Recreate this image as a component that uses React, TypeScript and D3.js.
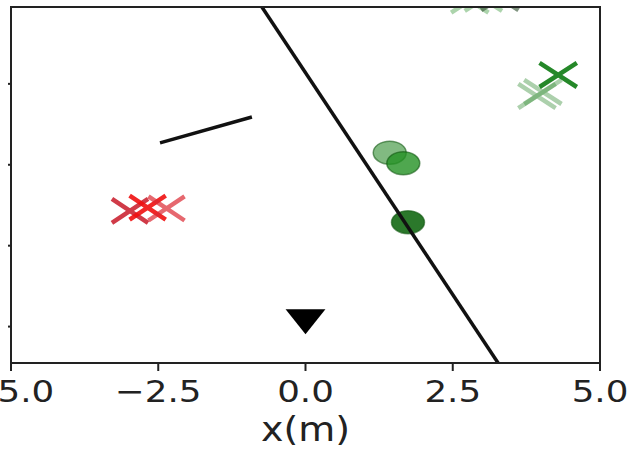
import React from "react";
import * as d3 from "d3";

// axis ticks
const xTicks = [-5, -2.5, 0, 2.5, 5];
const yTicks = [1, 2, 3, 4];

// decision boundary and short segment
const boundaryLine = [
  { x: -0.74, y: 4.95 },
  { x: 3.27, y: 0.55 },
];
const shortSegment = [
  { x: -2.47, y: 3.27 },
  { x: -0.91, y: 3.59 },
];

// agent position
const agent = { x: 0, y: 1.11 };

// red crosses
const redCrosses = [
  { x: -2.98, y: 2.43 },
  { x: -2.68, y: 2.47 },
  { x: -2.36, y: 2.46 },
];

// green circles
const greenCircles = [
  { x: 1.43, y: 3.15 },
  { x: 1.66, y: 3.02 },
  { x: 1.74, y: 2.29 },
];

// green crosses
const greenCrosses = [
  { x: 3.93, y: 3.85 },
  { x: 4.03, y: 3.9 },
  { x: 4.29, y: 4.11 },
  { x: 2.79, y: 5.03 },
  { x: 3.02, y: 5.05 },
  { x: 3.3, y: 5.06 },
];

const width = 637;
const height = 450;
const margin = { left: 11, right: 37, top: 7, bottom: 87 };

const redStyles = [
  { color: "rgb(200,25,40)", opacity: 0.85 },
  { color: "rgb(240,15,15)", opacity: 0.9 },
  { color: "rgb(220,40,50)", opacity: 0.7 },
];
const circleStyles = [
  { fill: "rgb(45,140,45)", opacity: 0.6 },
  { fill: "rgb(35,145,35)", opacity: 0.8 },
  { fill: "rgb(20,105,20)", opacity: 0.9 },
];
const greenCrossStyles = [
  { color: "rgb(70,150,70)", opacity: 0.45 },
  { color: "rgb(70,150,70)", opacity: 0.45 },
  { color: "rgb(25,130,30)", opacity: 0.95 },
  { color: "rgb(90,170,90)", opacity: 0.5 },
  { color: "rgb(90,170,90)", opacity: 0.5 },
  { color: "rgb(60,90,60)", opacity: 0.65 },
];

export default function App() {
  const x = d3
    .scaleLinear()
    .domain([-5, 5])
    .range([margin.left, width - margin.right]);
  const y = d3
    .scaleLinear()
    .domain([0.55, 4.95])
    .range([height - margin.bottom, margin.top]);

  const line = d3
    .line<{ x: number; y: number }>()
    .x((d) => x(d.x))
    .y((d) => y(d.y));

  const crossPath = d3.symbol(d3.symbolX, 380)()!;
  const triPath = d3.symbol(d3.symbolTriangle, 361)()!;

  const [x0, x1] = x.range();
  const [y0, y1] = y.range();

  const fontFamily = "DejaVu Sans, sans-serif";

  return (
    <svg
      width={width}
      height={height}
      style={{ position: "absolute", left: 0, top: 0, background: "#fff" }}
    >
      <defs>
        <clipPath id="plot-clip">
          <rect x={x0} y={y1} width={x1 - x0} height={y0 - y1} />
        </clipPath>
      </defs>

      <g clipPath="url(#plot-clip)">
        <path
          d={line(shortSegment)!}
          stroke="#111"
          strokeWidth={3.5}
          fill="none"
        />
        {redCrosses.map((d, i) => (
          <path
            key={"r" + i}
            d={crossPath}
            transform={`translate(${x(d.x)},${y(d.y)}) scale(1.5,1)`}
            stroke={redStyles[i].color}
            strokeOpacity={redStyles[i].opacity}
            strokeWidth={4.5}
            vectorEffect="non-scaling-stroke"
            fill="none"
          />
        ))}
        {greenCrosses.map((d, i) => (
          <path
            key={"g" + i}
            d={crossPath}
            transform={`translate(${x(d.x)},${y(d.y)}) scale(1.55,1)`}
            stroke={greenCrossStyles[i].color}
            strokeOpacity={greenCrossStyles[i].opacity}
            strokeWidth={4.5}
            vectorEffect="non-scaling-stroke"
            fill="none"
          />
        ))}
        {greenCircles.map((d, i) => (
          <ellipse
            key={"c" + i}
            cx={x(d.x)}
            cy={y(d.y)}
            rx={16.5}
            ry={11.5}
            fill={circleStyles[i].fill}
            fillOpacity={circleStyles[i].opacity}
            stroke="rgb(20,90,20)"
            strokeOpacity={0.6}
            strokeWidth={1.5}
          />
        ))}
        <path
          d={line(boundaryLine)!}
          stroke="#111"
          strokeWidth={3.5}
          fill="none"
        />
        <path
          d={triPath}
          transform={`translate(${x(agent.x)},${y(agent.y)}) scale(1.38,-1)`}
          fill="#000"
        />
      </g>

      {/* spines */}
      <rect
        x={x0}
        y={y1}
        width={x1 - x0}
        height={y0 - y1}
        fill="none"
        stroke="#222"
        strokeWidth={2}
      />

      {/* x ticks */}
      {xTicks.map((t) => (
        <g key={"xt" + t}>
          <line
            x1={x(t)}
            x2={x(t)}
            y1={y0}
            y2={y0 + 8}
            stroke="#222"
            strokeWidth={2}
          />
          <text
            transform={`translate(${x(t)},402) scale(1.15,1)`}
            textAnchor="middle"
            fontSize={31}
            fontFamily={fontFamily}
            fill="#222"
          >
            {t < 0 ? "\u2212" + Math.abs(t).toFixed(1) : t.toFixed(1)}
          </text>
        </g>
      ))}

      {/* y ticks */}
      {yTicks.map((t) => (
        <line
          key={"yt" + t}
          x1={x0 - 3}
          x2={x0}
          y1={y(t)}
          y2={y(t)}
          stroke="#222"
          strokeWidth={2}
        />
      ))}

      <text
        transform={`translate(${x(0)},441) scale(1.15,1)`}
        textAnchor="middle"
        fontSize={33}
        fontFamily={fontFamily}
        fill="#222"
      >
        x(m)
      </text>
    </svg>
  );
}
